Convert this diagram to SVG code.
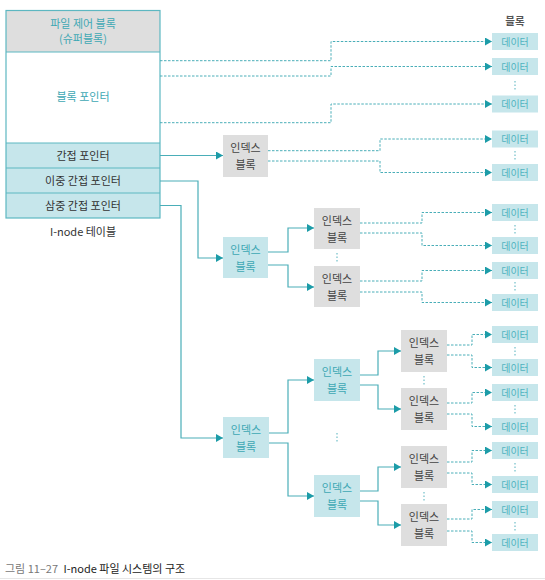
<svg xmlns="http://www.w3.org/2000/svg" width="545" height="580" viewBox="0 0 545 580">
<defs>
<style>
text{font-family:"Noto Sans CJK KR","Noto Sans",sans-serif;text-anchor:middle}
.t{font-size:11px;fill:#3ea8b4}
.d{font-size:11px;fill:#333}
.bx{font-size:11px;fill:#444}
.bt{font-size:11px;fill:#3ea8b4}
.dt{font-size:10px;fill:#4fb3bf}
.gray{fill:#dedede}
.teal{fill:#c6e6eb}
.solid{fill:none;stroke:#4aaeb8;stroke-width:1.2}
.dash{fill:none;stroke:#4aaeb8;stroke-width:1;stroke-dasharray:2.5 1.5}
.dots{stroke:#8ccbd3;stroke-width:1.5;stroke-dasharray:1.5 2}
</style>
<marker id="ah" markerUnits="userSpaceOnUse" markerWidth="8" markerHeight="8" refX="7" refY="4" orient="auto">
<path d="M0,0 L7,4 L0,8 Z" fill="#1c9ca8"/>
</marker>
</defs>
<rect width="545" height="580" fill="#fff"/>

<g id="inode-table">
<rect x="6" y="10.5" width="154" height="41.5" fill="#dedede"/>
<rect x="6" y="52" width="154" height="91" fill="#fff"/>
<rect x="6" y="143" width="154" height="75" fill="#c6e6eb"/>
<rect x="6" y="10.5" width="154" height="207.5" fill="none" stroke="#5db7c1" stroke-width="1.2"/>
<line x1="6" y1="52" x2="160" y2="52" stroke="#5db7c1" stroke-width="1.2"/>
<line x1="6" y1="143" x2="160" y2="143" stroke="#5db7c1" stroke-width="1.2"/>
<line x1="6" y1="168" x2="160" y2="168" stroke="#5db7c1" stroke-width="1.2"/>
<line x1="6" y1="193" x2="160" y2="193" stroke="#5db7c1" stroke-width="1.2"/>
<text class="t" x="83" y="28">파일 제어 블록</text>
<text class="t" x="83" y="42.5">(슈퍼블록)</text>
<text class="t" x="83" y="101">블록 포인터</text>
<text class="d" x="83" y="159.5">간접 포인터</text>
<text class="d" x="83" y="184.5">이중 간접 포인터</text>
<text class="d" x="83" y="209.5">삼중 간접 포인터</text>
<text class="d" x="83" y="236">I-node 테이블</text>
</g>

<g id="block-header"><text x="515" y="25" style="font-size:10.5px;fill:#555;font-weight:bold">블록</text></g>

<g id="connectors">
<path class="solid" d="M160,155.5 H223" marker-end="url(#ah)"/>
<path class="solid" d="M160,181 H198 V258 H223" marker-end="url(#ah)"/>
<path class="solid" d="M160,205.5 H181 V438 H223" marker-end="url(#ah)"/>
<path class="solid" d="M268,252 H288 V228 H314" marker-end="url(#ah)"/>
<path class="solid" d="M268,265 H288 V287 H314" marker-end="url(#ah)"/>
<path class="solid" d="M269,433 H288 V380 H314" marker-end="url(#ah)"/>
<path class="solid" d="M269,443 H288 V496 H314" marker-end="url(#ah)"/>
<path class="solid" d="M360,375 H378 V351 H401" marker-end="url(#ah)"/>
<path class="solid" d="M360,385 H378 V409 H401" marker-end="url(#ah)"/>
<path class="solid" d="M360,491 H378 V467 H401" marker-end="url(#ah)"/>
<path class="solid" d="M360,501 H378 V525 H401" marker-end="url(#ah)"/>

<path class="dash" d="M160,60.7 H331 V41.5 H492" marker-end="url(#ah)"/>
<path class="dash" d="M160,76 H331 V66.5 H492" marker-end="url(#ah)"/>
<path class="dash" d="M160,122.7 H331 V104 H492" marker-end="url(#ah)"/>
<path class="dash" d="M268,150.7 H380 V139 H492" marker-end="url(#ah)"/>
<path class="dash" d="M268,161 H380 V172.5 H492" marker-end="url(#ah)"/>
<path class="dash" d="M360,223 H422 V212.5 H492" marker-end="url(#ah)"/>
<path class="dash" d="M360,233 H422 V245.5 H492" marker-end="url(#ah)"/>
<path class="dash" d="M360,281 H422 V270.5 H492" marker-end="url(#ah)"/>
<path class="dash" d="M360,292 H422 V302.5 H492" marker-end="url(#ah)"/>
<path class="dash" d="M447,345 H472 V334.5 H492" marker-end="url(#ah)"/>
<path class="dash" d="M447,355 H472 V367.5 H492" marker-end="url(#ah)"/>
<path class="dash" d="M447,403 H472 V392.5 H492" marker-end="url(#ah)"/>
<path class="dash" d="M447,414 H472 V426.5 H492" marker-end="url(#ah)"/>
<path class="dash" d="M447,462 H472 V450.5 H492" marker-end="url(#ah)"/>
<path class="dash" d="M447,473 H472 V484.5 H492" marker-end="url(#ah)"/>
<path class="dash" d="M447,519 H472 V509.5 H492" marker-end="url(#ah)"/>
<path class="dash" d="M447,531 H472 V542.5 H492" marker-end="url(#ah)"/>
</g>

<g id="index-1"><rect class="gray" x="223" y="135" width="45" height="42"/><text class="bx" x="245.5" y="152">인덱스</text><text class="bx" x="245.5" y="168.5">블록</text></g>
<g id="index-2"><rect class="teal" x="223" y="237" width="45" height="41"/><text class="bt" x="245.5" y="254">인덱스</text><text class="bt" x="245.5" y="270.5">블록</text></g>
<g id="index-2a"><rect class="gray" x="314" y="208" width="46" height="41"/><text class="bx" x="337" y="225">인덱스</text><text class="bx" x="337" y="241.5">블록</text></g>
<g id="index-2b"><rect class="gray" x="314" y="266" width="46" height="41"/><text class="bx" x="337" y="283">인덱스</text><text class="bx" x="337" y="299.5">블록</text></g>
<g id="index-3"><rect class="teal" x="223" y="417" width="46" height="41"/><text class="bt" x="246" y="434">인덱스</text><text class="bt" x="246" y="450.5">블록</text></g>
<g id="index-3a"><rect class="teal" x="314" y="359" width="46" height="42"/><text class="bt" x="337" y="376">인덱스</text><text class="bt" x="337" y="392.5">블록</text></g>
<g id="index-3b"><rect class="teal" x="314" y="475" width="46" height="42"/><text class="bt" x="337" y="492">인덱스</text><text class="bt" x="337" y="508.5">블록</text></g>
<g id="index-c1"><rect class="gray" x="401" y="330" width="46" height="42"/><text class="bx" x="424" y="347">인덱스</text><text class="bx" x="424" y="363.5">블록</text></g>
<g id="index-c2"><rect class="gray" x="401" y="388" width="46" height="42"/><text class="bx" x="424" y="405">인덱스</text><text class="bx" x="424" y="421.5">블록</text></g>
<g id="index-c3"><rect class="gray" x="401" y="446" width="46" height="42"/><text class="bx" x="424" y="463">인덱스</text><text class="bx" x="424" y="479.5">블록</text></g>
<g id="index-c4"><rect class="gray" x="401" y="504" width="46" height="42"/><text class="bx" x="424" y="521">인덱스</text><text class="bx" x="424" y="537.5">블록</text></g>

<g id="data-blocks">
<g id="d1"><rect class="teal" x="492" y="33" width="46" height="17"/><text class="dt" x="515" y="45.5">데이터</text></g>
<g id="d2"><rect class="teal" x="492" y="58" width="46" height="17"/><text class="dt" x="515" y="70.5">데이터</text></g>
<g id="d3"><rect class="teal" x="492" y="95.5" width="46" height="17"/><text class="dt" x="515" y="108">데이터</text></g>
<g id="d4"><rect class="teal" x="492" y="130.5" width="46" height="17"/><text class="dt" x="515" y="143">데이터</text></g>
<g id="d5"><rect class="teal" x="492" y="164" width="46" height="17"/><text class="dt" x="515" y="176.5">데이터</text></g>
<g id="d6"><rect class="teal" x="492" y="204" width="46" height="17"/><text class="dt" x="515" y="216.5">데이터</text></g>
<g id="d7"><rect class="teal" x="492" y="237" width="46" height="17"/><text class="dt" x="515" y="249.5">데이터</text></g>
<g id="d8"><rect class="teal" x="492" y="262" width="46" height="17"/><text class="dt" x="515" y="274.5">데이터</text></g>
<g id="d9"><rect class="teal" x="492" y="294" width="46" height="17"/><text class="dt" x="515" y="306.5">데이터</text></g>
<g id="d10"><rect class="teal" x="492" y="326" width="46" height="17"/><text class="dt" x="515" y="338.5">데이터</text></g>
<g id="d11"><rect class="teal" x="492" y="359" width="46" height="17"/><text class="dt" x="515" y="371.5">데이터</text></g>
<g id="d12"><rect class="teal" x="492" y="384" width="46" height="17"/><text class="dt" x="515" y="396.5">데이터</text></g>
<g id="d13"><rect class="teal" x="492" y="418" width="46" height="17"/><text class="dt" x="515" y="430.5">데이터</text></g>
<g id="d14"><rect class="teal" x="492" y="442" width="46" height="17"/><text class="dt" x="515" y="454.5">데이터</text></g>
<g id="d15"><rect class="teal" x="492" y="476" width="46" height="17"/><text class="dt" x="515" y="488.5">데이터</text></g>
<g id="d16"><rect class="teal" x="492" y="501" width="46" height="17"/><text class="dt" x="515" y="513.5">데이터</text></g>
<g id="d17"><rect class="teal" x="492" y="534" width="46" height="17"/><text class="dt" x="515" y="546.5">데이터</text></g>
</g>

<g id="ellipses">
<line class="dots" x1="515" y1="81" x2="515" y2="90"/>
<line class="dots" x1="515" y1="151" x2="515" y2="160"/>
<line class="dots" x1="515" y1="225" x2="515" y2="234"/>
<line class="dots" x1="515" y1="282" x2="515" y2="291"/>
<line class="dots" x1="515" y1="347" x2="515" y2="356"/>
<line class="dots" x1="515" y1="405" x2="515" y2="414"/>
<line class="dots" x1="515" y1="463" x2="515" y2="472"/>
<line class="dots" x1="515" y1="522" x2="515" y2="531"/>
<line class="dots" x1="337" y1="253" x2="337" y2="262"/>
<line class="dots" x1="337" y1="433" x2="337" y2="442"/>
<line class="dots" x1="424" y1="376" x2="424" y2="385"/>
<line class="dots" x1="424" y1="492" x2="424" y2="501"/>
</g>

<g id="caption">
<text x="5" y="573" style="text-anchor:start;font-size:11px;fill:#777">그림 11–27 <tspan dx="3" style="fill:#222">I-node 파일 시스템의 구조</tspan></text>
<line x1="0" y1="578.5" x2="545" y2="578.5" stroke="#e6e6e6" stroke-width="1"/>
</g>
</svg>
